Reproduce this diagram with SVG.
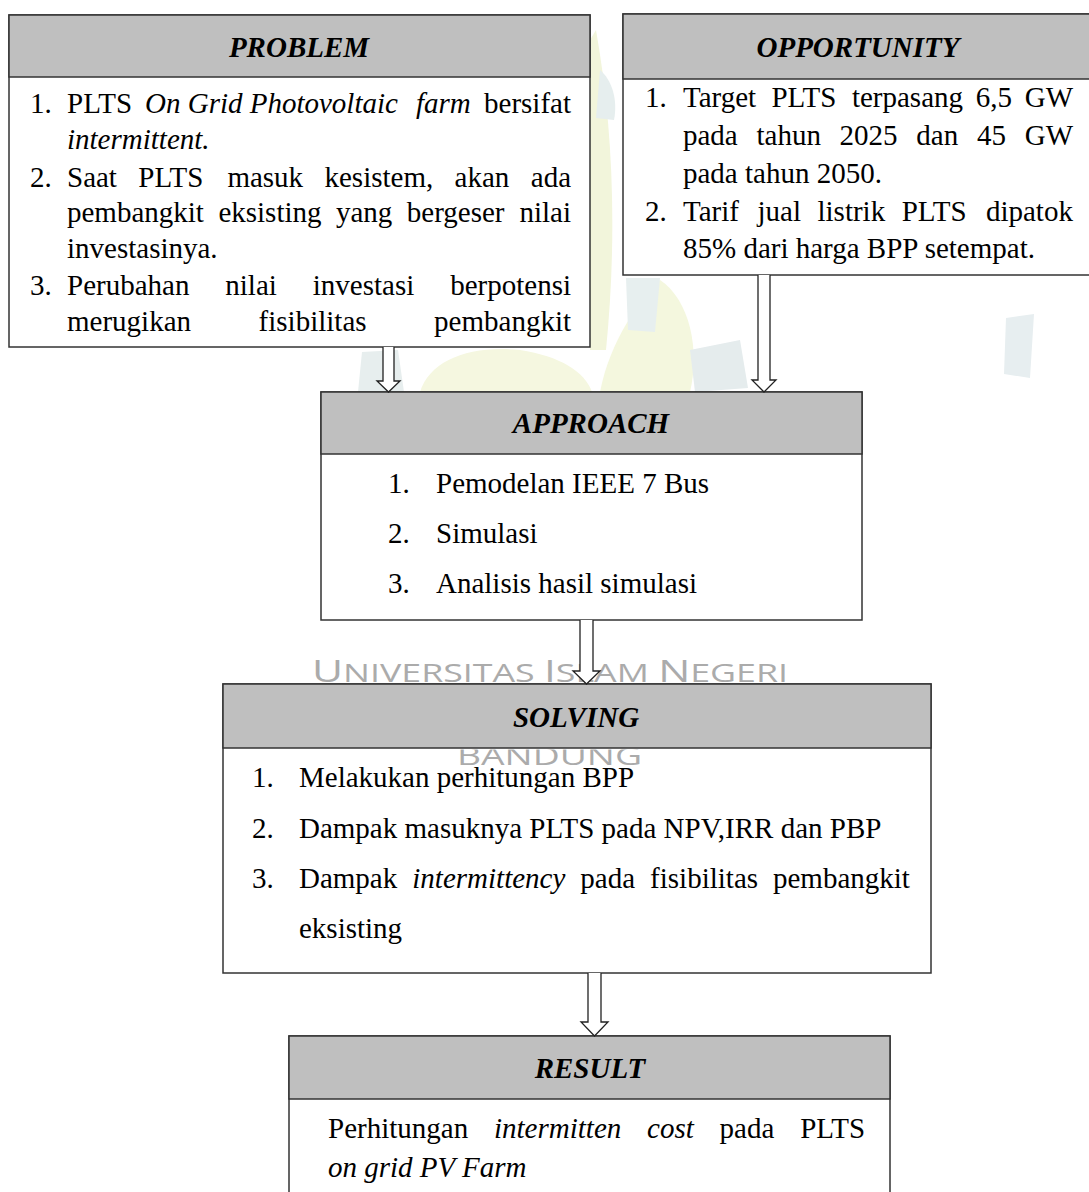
<svg xmlns="http://www.w3.org/2000/svg" width="1089" height="1192" viewBox="0 0 1089 1192">
<style>
.box{fill:#ffffff;stroke:#333333;stroke-width:1.5}
.hdr{fill:#bfbfbf;stroke:#333333;stroke-width:1.5}
.t{font-family:"Liberation Serif","Times New Roman",serif;font-size:29px;fill:#000000}
.i{font-style:italic}
.h{font-family:"Liberation Serif","Times New Roman",serif;font-size:29px;font-weight:bold;font-style:italic;fill:#000000;text-anchor:middle}
.e{text-anchor:end}
.arrow{fill:#ffffff;stroke:#222222;stroke-width:1.3;stroke-linejoin:miter}
.wm{font-family:"Open Sans","DejaVu Sans",sans-serif;fill:#ababab}
</style>
<defs>
<clipPath id="belowSolvingHeader"><rect x="0" y="749.5" width="1089" height="200"/></clipPath>
</defs>
<rect x="0" y="0" width="1089" height="1192" fill="#ffffff"/>

<g id="watermark-logo">
<path d="M596 30 C612 120 618 230 606 350 L590 350 L590 40 Z" fill="#f2f5db"/>
<path d="M600 70 C612 80 618 100 614 120 L596 118 Z" fill="#e6eeee"/>
<path d="M420 392 C430 360 470 345 520 350 C560 356 585 372 592 392 Z" fill="#f5f7e0"/>
<path d="M600 392 C610 340 640 300 660 280 C690 300 700 350 690 392 Z" fill="#f4f7de"/>
<path d="M358 392 L362 352 L398 350 L404 392 Z" fill="#e7eeee"/>
<path d="M690 350 L740 340 L748 388 L695 392 Z" fill="#e5eced"/>
<path d="M626 278 L660 278 L655 332 L628 330 Z" fill="#e7efef"/>
<path d="M1006 318 L1034 314 L1030 378 L1004 374 Z" fill="#e7eef0"/>
</g>

<g id="problem">
<rect class="box" x="9" y="15" width="581" height="332"/>
<rect class="hdr" x="9" y="15" width="581" height="62"/>
<text class="h" x="299" y="57">PROBLEM</text>
<text class="t" x="30" y="113">1.</text>
<text class="t" x="67" y="113">PLTS</text>
<text class="t i" x="145" y="113">On Grid Photovoltaic</text>
<text class="t i" x="416" y="113">farm</text>
<text class="t e" x="571" y="113">bersifat</text>
<text class="t i" x="67" y="149">intermittent.</text>
<text class="t" x="30" y="187">2.</text>
<text class="t" y="187"><tspan x="67">Saat</tspan><tspan x="138.3">PLTS</tspan><tspan x="227.4">masuk</tspan><tspan x="324.5">kesistem,</tspan><tspan x="454.6">akan</tspan><tspan x="530.8">ada</tspan></text>
<text class="t" y="222"><tspan x="67">pembangkit</tspan><tspan x="218.4">eksisting</tspan><tspan x="335.9">yang</tspan><tspan x="406.8">bergeser</tspan><tspan x="519.4">nilai</tspan></text>
<text class="t" x="67" y="258">investasinya.</text>
<text class="t" x="30" y="295">3.</text>
<text class="t" y="295"><tspan x="67">Perubahan</tspan><tspan x="225.3">nilai</tspan><tspan x="312.8">investasi</tspan><tspan x="450.2">berpotensi</tspan></text>
<text class="t" y="331"><tspan x="67">merugikan</tspan><tspan x="258.6">fisibilitas</tspan><tspan x="434.1">pembangkit</tspan></text>
</g>

<g id="opportunity">
<rect class="box" x="623" y="14" width="470" height="261"/>
<rect class="hdr" x="623" y="14" width="470" height="65"/>
<text class="h" x="858" y="57">OPPORTUNITY</text>
<text class="t" x="645" y="107">1.</text>
<text class="t" y="107"><tspan x="683">Target</tspan><tspan x="771.4">PLTS</tspan><tspan x="851.9">terpasang</tspan><tspan x="975.7">6,5</tspan><tspan x="1024.7">GW</tspan></text>
<text class="t" y="145"><tspan x="683">pada</tspan><tspan x="756.5">tahun</tspan><tspan x="839.6">2025</tspan><tspan x="916.3">dan</tspan><tspan x="976.9">45</tspan><tspan x="1024.7">GW</tspan></text>
<text class="t" x="683" y="183">pada tahun 2050.</text>
<text class="t" x="645" y="221">2.</text>
<text class="t" y="221"><tspan x="683">Tarif</tspan><tspan x="757.5">jual</tspan><tspan x="817.5">listrik</tspan><tspan x="901.7">PLTS</tspan><tspan x="985.9">dipatok</tspan></text>
<text class="t" x="683" y="258">85% dari harga BPP setempat.</text>
</g>

<g id="approach">
<rect class="box" x="321" y="392" width="541" height="228"/>
<rect class="hdr" x="321" y="392" width="541" height="62"/>
<text class="h" x="591" y="433">APPROACH</text>
<text class="t" x="388" y="493">1.</text>
<text class="t" x="436" y="493">Pemodelan IEEE 7 Bus</text>
<text class="t" x="388" y="543">2.</text>
<text class="t" x="436" y="543">Simulasi</text>
<text class="t" x="388" y="593">3.</text>
<text class="t" x="436" y="593">Analisis hasil simulasi</text>
</g>

<g id="solving">
<rect class="box" x="223" y="684" width="708" height="289"/>
<rect class="hdr" x="223" y="684" width="708" height="64"/>
<text class="h" x="576" y="727">SOLVING</text>
<text class="t" x="252" y="787">1.</text>
<text class="t" x="299" y="787">Melakukan perhitungan BPP</text>
<text class="t" x="252" y="838">2.</text>
<text class="t" x="299" y="838">Dampak masuknya PLTS pada NPV,IRR dan PBP</text>
<text class="t" x="252" y="888">3.</text>
<text class="t" y="888"><tspan x="299">Dampak</tspan><tspan x="412.3" font-style="italic">intermittency</tspan><tspan x="580.3">pada</tspan><tspan x="650.1">fisibilitas</tspan><tspan x="773">pembangkit</tspan></text>
<text class="t" x="299" y="938">eksisting</text>
</g>

<g id="result">
<rect class="box" x="289" y="1036" width="601" height="170"/>
<rect class="hdr" x="289" y="1036" width="601" height="63"/>
<text class="h" x="590" y="1078">RESULT</text>
<text class="t" y="1138"><tspan x="328">Perhitungan</tspan><tspan x="494" font-style="italic">intermitten</tspan><tspan x="647.1" font-style="italic">cost</tspan><tspan x="719.6">pada</tspan><tspan x="800.2">PLTS</tspan></text>
<text class="t i" x="328" y="1177">on grid PV Farm</text>
</g>

<g id="watermark-text">
<text class="wm" x="312" y="682" textLength="476" lengthAdjust="spacingAndGlyphs"><tspan font-size="31">U</tspan><tspan font-size="26">NIVERSITAS </tspan><tspan font-size="31">I</tspan><tspan font-size="26">SLAM </tspan><tspan font-size="31">N</tspan><tspan font-size="26">EGERI</tspan></text>
<text class="wm" x="457" y="765" font-size="25" textLength="185" lengthAdjust="spacingAndGlyphs" clip-path="url(#belowSolvingHeader)">BANDUNG</text>
</g>

<g id="connectors">
<path class="arrow" d="M383 347 L383 381 L377 381 L388.5 392 L400 381 L394 381 L394 347"/>
<path class="arrow" d="M758 275 L758 380 L752 380 L764 392 L776 380 L770 380 L770 275"/>
<path class="arrow" d="M580 620 L580 671 L573 671 L586.5 684 L600 671 L593 671 L593 620"/>
<path class="arrow" d="M588 973 L588 1022 L581 1022 L594.5 1036 L608 1022 L601 1022 L601 973"/>
</g>
</svg>
